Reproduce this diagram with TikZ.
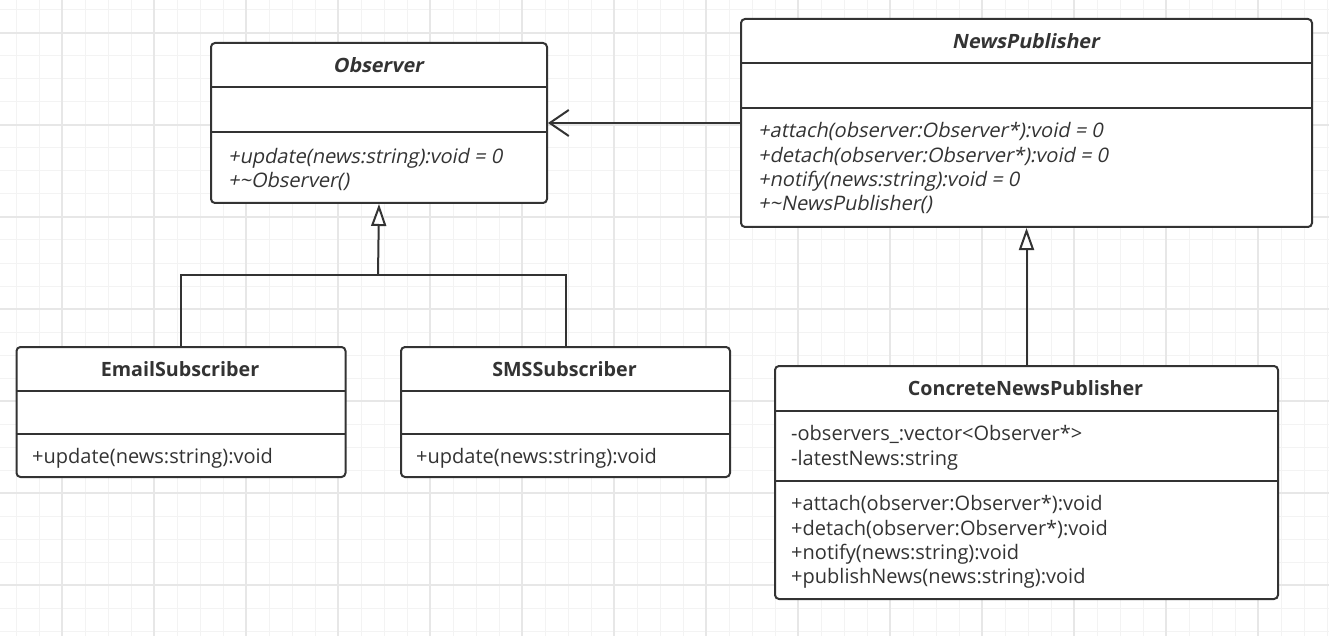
\documentclass[tikz,border=0pt]{standalone}
\usepackage{fontspec}
\setmainfont{Open Sans}
\newfontfamily\oblfont[FakeSlant=0.2]{Open Sans}
\usetikzlibrary{arrows.meta}
\definecolor{ink}{RGB}{51,51,51}
\definecolor{gridminor}{RGB}{243,243,243}
\definecolor{gridmajor}{RGB}{231,231,231}
\tikzset{
  cls/.style={draw=ink, line width=2pt, fill=white, rounded corners=4pt, inner sep=0pt, anchor=north west},
  sepline/.style={draw=ink, line width=2pt},
  title/.style={anchor=base, inner sep=0pt, text=ink, font=\bfseries\fontsize{19.7}{23}\selectfont},
  atitle/.style={anchor=base, inner sep=0pt, text=ink, font=\oblfont\bfseries\fontsize{19.7}{23}\selectfont},
  mem/.style={anchor=base west, inner sep=0pt, text=ink, font=\fontsize{20}{23}\selectfont},
  amem/.style={anchor=base west, inner sep=0pt, text=ink, font=\oblfont\fontsize{20}{23}\selectfont},
  conn/.style={draw=ink, line width=2pt},
  gen/.style={conn, -{Triangle[open, length=22pt, width=15pt, fill=white]}},
  assoc/.style={conn, -{Straight Barb[length=19pt, width=26pt]}, line join=miter}
}
\begin{document}
\begin{tikzpicture}[x=1pt, y=-1pt]
\useasboundingbox (0,0) rectangle (1329,636);
\fill[white] (0,0) rectangle (1329,636);
% grid
\foreach \x in {16,39,...,1329} \draw[gridminor, line width=1pt] (\x,0) -- (\x,636);
\foreach \y in {10,33,...,636} \draw[gridminor, line width=1pt] (0,\y) -- (1329,\y);
\foreach \x in {62,154,...,1329} \draw[gridmajor, line width=1.3pt] (\x,0) -- (\x,636);
\foreach \y in {33,125,...,636} \draw[gridmajor, line width=1.3pt] (0,\y) -- (1329,\y);

% Observer
\node[cls, minimum width=336pt, minimum height=160pt] (obs) at (210,42) {};
\draw[sepline] (210,87) -- (546,87);
\draw[sepline] (210,132) -- (546,132);
\node[atitle] (obsT) at (378,73) {Observer};
\node[amem] (obsM1) at (228,163.5) {+update(news:string):void = 0};
\node[amem] (obsM2) at (228,187.5) {+\textasciitilde Observer()};

% NewsPublisher
\node[cls, minimum width=571pt, minimum height=208pt] (np) at (740,18) {};
\draw[sepline] (740,63) -- (1311,63);
\draw[sepline] (740,108) -- (1311,108);
\node[atitle] (npT) at (1025.5,48.5) {NewsPublisher};
\node[amem] (npM1) at (758,138) {+attach(observer:Observer*):void = 0};
\node[amem] (npM2) at (758,162.3) {+detach(observer:Observer*):void = 0};
\node[amem] (npM3) at (758,186.6) {+notify(news:string):void = 0};
\node[amem] (npM4) at (758,211) {+\textasciitilde NewsPublisher()};

% EmailSubscriber
\node[cls, minimum width=329pt, minimum height=130pt] (email) at (15.5,346) {};
\draw[sepline] (15.5,391) -- (344.5,391);
\draw[sepline] (15.5,434) -- (344.5,434);
\node[title] (emailT) at (180,376) {EmailSubscriber};
\node[mem] (emailM1) at (32,463) {+update(news:string):void};

% SMSSubscriber
\node[cls, minimum width=329pt, minimum height=130pt] (sms) at (400,346) {};
\draw[sepline] (400,391) -- (729,391);
\draw[sepline] (400,434) -- (729,434);
\node[title] (smsT) at (564.5,376) {SMSSubscriber};
\node[mem] (smsM1) at (416,463) {+update(news:string):void};

% ConcreteNewsPublisher
\node[cls, minimum width=503pt, minimum height=233pt] (cnp) at (774,365) {};
\draw[sepline] (774,411) -- (1277,411);
\draw[sepline] (774,481) -- (1277,481);
\node[title] (cnpT) at (1025.5,395) {ConcreteNewsPublisher};
\node[mem] (cnpA1) at (791,440) {-observers\_:vector<Observer*>};
\node[mem] (cnpA2) at (791,465) {-latestNews:string};
\node[mem] (cnpM1) at (791,510.7) {+attach(observer:Observer*):void};
\node[mem] (cnpM2) at (791,535) {+detach(observer:Observer*):void};
\node[mem] (cnpM3) at (791,559.3) {+notify(news:string):void};
\node[mem] (cnpM4) at (791,583.3) {+publishNews(news:string):void};

% connectors
\coordinate (join) at (378,275);
\draw[conn] (email.north) |- (join) -| (sms.north);
\draw[gen] (join) -- (obs.south);
\draw[gen] (cnp.north) -- (np.south);
\draw[assoc] (np.west) -- (obs.east);
\end{tikzpicture}
\end{document}
